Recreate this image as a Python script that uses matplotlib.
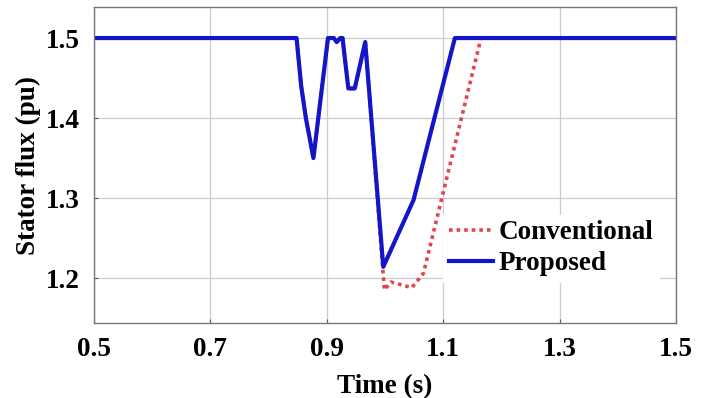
import matplotlib

matplotlib.use("Agg")
import matplotlib.pyplot as plt

# stator flux response to the voltage sag (pu), both controllers
t_prop = [0.50, 0.848, 0.856, 0.864, 0.877, 0.902, 0.912, 0.917, 0.923, 0.927,
          0.937, 0.948, 0.966, 0.997, 1.049, 1.120, 1.50]
flux_prop = [1.50, 1.50, 1.44, 1.40, 1.35, 1.50, 1.50, 1.495, 1.50, 1.50,
             1.437, 1.437, 1.495, 1.214, 1.2975, 1.50, 1.50]

t_conv = [0.50, 0.848, 0.856, 0.864, 0.877, 0.902, 0.912, 0.917, 0.923, 0.927,
          0.937, 0.948, 0.966, 0.999, 1.010, 1.046, 1.066, 1.165, 1.50]
flux_conv = [1.50, 1.50, 1.44, 1.40, 1.35, 1.50, 1.50, 1.495, 1.50, 1.50,
             1.437, 1.437, 1.495, 1.185, 1.195, 1.188, 1.206, 1.50, 1.50]

x_ticks = [0.5, 0.7, 0.9, 1.1, 1.3, 1.5]
y_ticks = [1.2, 1.3, 1.4, 1.5]

plt.rcParams["font.family"] = ["Liberation Serif", "DejaVu Serif"]
plt.rcParams["font.weight"] = "bold"

fig = plt.figure(figsize=(7.08, 3.98), dpi=100)
ax = fig.add_axes([0.1328, 0.1884, 0.822, 0.794])

ax.plot(t_conv, flux_conv, color="#e4444a", lw=2.6, ls=(0, (1, 1.1)),
        label="Conventional")
ax.plot(t_prop, flux_prop, color="#1414c8", lw=3.0, label="Proposed")

ax.set_xlim(0.5, 1.5)
ax.set_ylim(1.1438, 1.5388)
ax.set_xticks(x_ticks)
ax.set_yticks(y_ticks)
ax.set_xticklabels([f"{v:.1f}" for v in x_ticks])
ax.set_yticklabels([f"{v:.1f}" for v in y_ticks])
ax.tick_params(labelsize=19.5, length=3, width=0.8, color="#555555",
               direction="in", pad=10)
ax.grid(True, color="#cccccc", lw=0.9)
for s in ax.spines.values():
    s.set_color("#777777")
    s.set_linewidth(1.0)

ax.set_xlabel("Time (s)", fontsize=19.5, fontweight="bold", labelpad=9)
ax.set_ylabel("Stator flux (pu)", fontsize=19.5, fontweight="bold", labelpad=4)

leg = ax.legend(loc="upper left", fontsize=19.5, frameon=True, fancybox=False,
                handlelength=1.65, handletextpad=0.2, labelspacing=0.22,
                borderpad=0.2, borderaxespad=0, bbox_to_anchor=(0.60, 0.342))
leg.get_frame().set_edgecolor("white")
leg.get_frame().set_facecolor("white")
leg.get_frame().set_alpha(1.0)

fig.savefig("out.png", dpi=100)
